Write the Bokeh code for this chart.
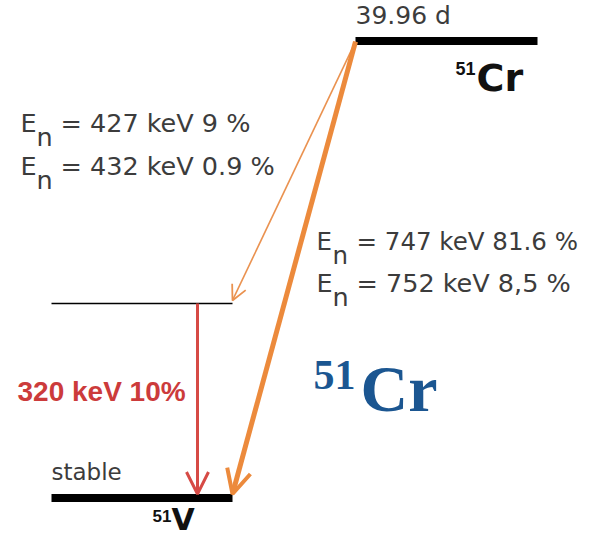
from bokeh.plotting import figure
from bokeh.models import Range1d, Arrow, OpenHead, ColumnDataSource
from bokeh.core.properties import value
from bokeh.embed import file_html
from bokeh.resources import INLINE

# ---------------- data ----------------
mass_number = "51"
parent = "Cr"
daughter = "V"
half_life = "39.96 d"
level_energy_keV = [752, 320, 0]          # 51Cr ground, 51V excited, 51V ground
ec1_energies_keV = [427, 432]             # EC to 320 keV level
ec1_branches = ["9", "0.9"]
ec2_energies_keV = [747, 752]             # EC to ground state
ec2_branches = ["81.6", "8,5"]
gamma_energy_keV = 320
gamma_branch = "10%"
stable_label = "stable"

# ---------------- layout ----------------
W, H = 579, 536
PX_PER_KEV = 0.6078
Y0 = 497.5                      # picture row of the 0 keV level


def kev(py):
    """picture pixel row -> energy axis"""
    return (Y0 - py) / PX_PER_KEV


HALF = 4 / PX_PER_KEV           # half thickness of thick level lines (keV)

p = figure(width=W, height=H, x_range=Range1d(0, W),
           y_range=Range1d(kev(H), kev(0)),
           output_backend="svg", toolbar_location=None, min_border=0,
           x_axis_location=None, y_axis_location=None)
p.grid.visible = False
p.outline_line_color = None
p.background_fill_color = "white"
p.border_fill_color = "white"

# levels
lvl_x0 = [355, 51, 51]
lvl_x1 = [537, 232, 232]
lvl_w = [8, 1.5, 8]
lv = ColumnDataSource(dict(x0=lvl_x0, x1=lvl_x1, y=level_energy_keV, w=lvl_w))
p.segment(x0="x0", y0="y", x1="x1", y1="y", line_width="w",
          line_color="black", source=lv)

# transitions
orange = "#ec8a3c"
thin_orange = "#ea9250"
red = "#d64a45"
p.add_layout(Arrow(end=OpenHead(size=15, line_color=thin_orange, line_width=1.8),
                   line_color=thin_orange, line_width=1.6,
                   x_start=lvl_x0[0], y_start=level_energy_keV[0] - 1,
                   x_end=lvl_x1[1], y_end=level_energy_keV[1] + 5))
p.add_layout(Arrow(end=OpenHead(size=24, line_color=orange, line_width=4),
                   line_color=orange, line_width=5,
                   x_start=lvl_x0[0], y_start=level_energy_keV[0] - 1,
                   x_end=lvl_x1[2], y_end=level_energy_keV[2] + HALF))
p.add_layout(Arrow(end=OpenHead(size=22, line_color=red, line_width=3),
                   line_color=red, line_width=3,
                   x_start=197, y_start=level_energy_keV[1],
                   x_end=197, y_end=level_energy_keV[2] + HALF))

gray = "#3c3c3c"


def txt(x, py, s, font, size, color, style="normal"):
    # py: wanted baseline row in the picture
    p.text(x=[x], y=[kev(py - 0.38 * size)], text=[s], text_font=value(font),
           text_font_size=value(f"{size}px"), text_color=color,
           text_font_style=style, text_baseline="alphabetic", text_align="left")


# E_n lines: (x of "E", baseline rows, gap text after "=", font sizes)
for (ex, rows, gap, sizes), energies, branches in (
        ((20, [132, 175], "  ", [25.5, 25.5]), ec1_energies_keV, ec1_branches),
        ((316, [250, 292], " ", [24.5, 25.5]), ec2_energies_keV, ec2_branches)):
    for row, e, b, fs in zip(rows, energies, branches, sizes):
        txt(ex, row, "E", "DejaVu Sans", fs, gray)
        txt(ex + 16, row + 14, "n", "DejaVu Sans", fs, gray)
        txt(ex + 40, row, f"={gap}{e} keV {b} %", "DejaVu Sans", fs, gray)

# half-life
txt(355, 24, half_life, "DejaVu Sans", 25, gray)
# parent label
txt(455, 75, mass_number, "Liberation Sans", 18, "#111111", "bold")
txt(476, 92, parent, "DejaVu Sans", 38, "#111111", "bold")
# daughter label
txt(152, 522, mass_number, "Liberation Sans", 17, "#111111", "bold")
txt(171, 530, daughter, "DejaVu Sans", 30, "#111111", "bold")
txt(51, 480, stable_label, "DejaVu Sans", 23, gray)
# gamma
txt(17, 402, f"{gamma_energy_keV} keV {gamma_branch}", "Liberation Sans", 28, "#cc3b3b", "bold")
# big blue title
blue = "#1b5691"
txt(313, 390, mass_number, "Liberation Serif", 42, blue, "bold")
txt(360, 413, parent, "Liberation Serif", 66, blue, "bold")

open("out.html", "w").write(file_html(p, INLINE))
